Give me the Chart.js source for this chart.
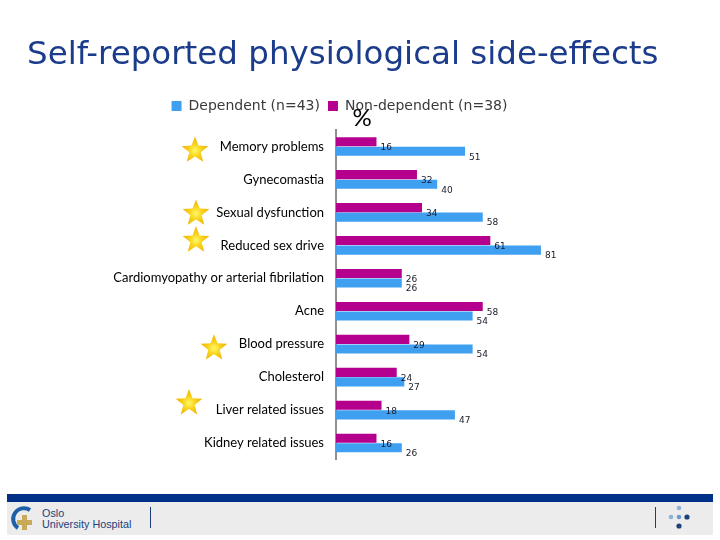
<!DOCTYPE html>
<html>
<head>
<meta charset="utf-8">
<script src="https://cdn.jsdelivr.net/npm/chart.js@4"></script>
<style>
  html,body{margin:0;padding:0;background:#fff;}
  #wrap{position:relative;width:720px;height:540px;overflow:hidden;}
  canvas{position:absolute;left:0;top:0;}
  .footbar{position:absolute;left:7px;top:494px;width:706px;height:8px;background:#003087;}
  .footgrey{position:absolute;left:7px;top:502px;width:706px;height:33px;background:#ececec;}
  .logo-text{position:absolute;left:42px;top:508px;font-family:"Liberation Sans",Arial,sans-serif;font-size:10.8px;line-height:11px;color:#1d3f7a;}
  .sep{position:absolute;top:507px;width:1px;height:21px;background:#1d3f7a;}
</style>
</head>
<body>
<div id="wrap">
  <canvas id="c" width="720" height="540"></canvas>
  <div class="footbar"></div>
  <div class="footgrey"></div>
  <svg style="position:absolute;left:10px;top:505px" width="26" height="28" viewBox="0 0 26 28">
    <path d="M20 5 A10 10 0 1 0 8 23" fill="none" stroke="#1e5fa8" stroke-width="4"/>
    <rect x="12" y="10" width="5" height="15" fill="#c9a95a"/>
    <rect x="7" y="15" width="15" height="5" fill="#c9a95a"/>
  </svg>
  <div class="logo-text">Oslo<br>University Hospital</div>
  <div class="sep" style="left:150px"></div>
  <div class="sep" style="left:655px"></div>
  <svg style="position:absolute;left:664px;top:505px" width="30" height="28">
    <circle cx="15" cy="3" r="2.3" fill="#8db3d8"/>
    <circle cx="7" cy="12" r="2.3" fill="#8db3d8"/>
    <circle cx="15" cy="12" r="2.3" fill="#6c9bcb"/>
    <circle cx="23" cy="12" r="2.6" fill="#1d3f7a"/>
    <circle cx="15" cy="21" r="2.6" fill="#1d3f7a"/>
  </svg>
</div>
<script>
const titleText = 'Self-reported physiological side-effects';
const categories = ["Memory problems","Gynecomastia","Sexual dysfunction","Reduced sex drive","Cardiomyopathy or arterial fibrilation","Acne","Blood pressure","Cholesterol","Liver related issues","Kidney related issues"];
const dependent = [51, 40, 58, 81, 26, 54, 54, 27, 47, 26];
const nonDependent = [16, 32, 34, 61, 26, 58, 29, 24, 18, 16];
const seriesNames = ["Dependent (n=43)", "Non-dependent (n=38)"];
const starredCategories = ["Memory problems","Sexual dysfunction","Reduced sex drive","Blood pressure","Liver related issues"];
const starNudge = [[-141,3],[-140,0],[-140,-6],[-122,3],[-147,-8]];

const BLUE = '#3f9ff0', MAGENTA = '#b5008e';

function drawStar(ctx, cx, cy, R, r){
  ctx.beginPath();
  for(let i=0;i<10;i++){
    const rad = i%2===0 ? R : r;
    const a = -Math.PI/2 + i*Math.PI/5;
    const x = cx + rad*Math.cos(a), y = cy + rad*Math.sin(a);
    i===0 ? ctx.moveTo(x,y) : ctx.lineTo(x,y);
  }
  ctx.closePath();
}

const decor = {
  id:'decor',
  afterDraw(chart){
    const ctx = chart.ctx;
    ctx.save();
    // slide title
    ctx.font = '32.5px "DejaVu Sans", sans-serif';
    ctx.fillStyle = '#1b3b8b';
    ctx.textAlign = 'left';
    ctx.textBaseline = 'alphabetic';
    ctx.fillText(titleText, 27, 64);
    ctx.restore();
  },
  afterDatasetsDraw(chart){
    const ctx = chart.ctx;
    ctx.save();
    ctx.font = '9px "DejaVu Sans", sans-serif';
    ctx.fillStyle = '#1a1a2a';
    ctx.textBaseline = 'middle';
    ctx.textAlign = 'left';
    chart.data.datasets.forEach((ds, di) => {
      const meta = chart.getDatasetMeta(di);
      meta.data.forEach((el, i) => {
        ctx.fillText(String(ds.data[i]), el.x + 4, el.y + 6);
      });
    });
    // percent sign
    const ca = chart.chartArea;
    ctx.font = '24px "Lato", sans-serif';
    ctx.fillStyle = '#000';
    ctx.textAlign = 'center';
    ctx.fillText('%', ca.left + 26, ca.top - 12);
    // stars
    const ys = chart.scales.y;
    starredCategories.forEach((name, k) => {
      const idx = categories.indexOf(name);
      const cx = ca.left + starNudge[k][0];
      const cy = ys.getPixelForValue(idx) + starNudge[k][1];
      const g = ctx.createRadialGradient(cx, cy+1, 1, cx, cy+1, 13);
      g.addColorStop(0, '#fff35a');
      g.addColorStop(0.45, '#f8d21c');
      g.addColorStop(1, '#f2b400');
      drawStar(ctx, cx, cy+1, 14, 6);
      ctx.fillStyle = g;
      ctx.fill();
    });
    ctx.restore();
  }
};

new Chart(document.getElementById('c'), {
  type: 'bar',
  data: {
    labels: categories,
    datasets: [
      { label: seriesNames[1], data: nonDependent, backgroundColor: MAGENTA, borderWidth: 0,
        categoryPercentage: 0.58, barPercentage: 0.95 },
      { label: seriesNames[0], data: dependent, backgroundColor: BLUE, borderWidth: 0,
        categoryPercentage: 0.58, barPercentage: 0.95 }
    ]
  },
  options: {
    indexAxis: 'y',
    responsive: false,
    animation: false,
    devicePixelRatio: 1,
    layout: { padding: { left: 90, right: 131, top: 91, bottom: 80.5 } },
    plugins: {
      title: { display: false },
      legend: {
        display: true,
        reverse: true,
        labels: {
          color: '#3a3a3a',
          font: { family: '"DejaVu Sans"', size: 14 },
          boxWidth: 10, boxHeight: 10,
          padding: 8
        }
      },
      tooltip: { enabled: false }
    },
    scales: {
      x: {
        position: 'top',
        min: 0, max: 100,
        display: true,
        grid: { display: false, drawTicks: false },
        border: { display: false },
        ticks: { display: false },
        afterFit(axis){ axis.height = 7; }
      },
      y: {
        grid: { display: false, drawTicks: false },
        border: { display: true, color: '#8f8f8f', width: 2 },
        ticks: { color: '#000', font: { family: 'Lato', size: 13 }, padding: 12, autoSkip: false },
        afterFit(axis){ axis.width = 246; }
      }
    }
  },
  plugins: [decor]
});
</script>
</body>
</html>
